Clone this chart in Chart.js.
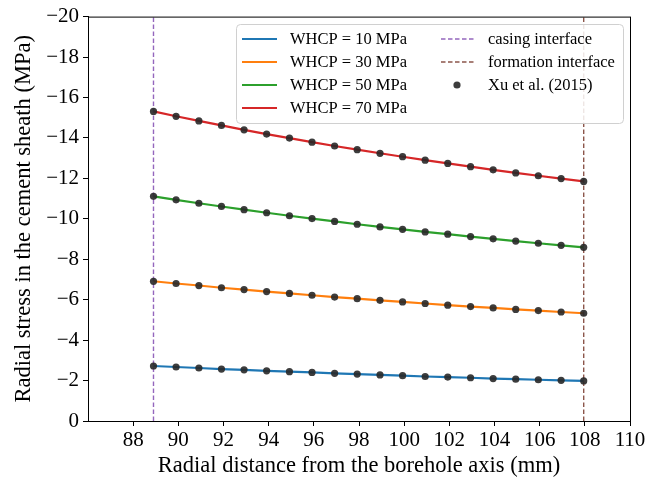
<!DOCTYPE html>
<html>
<head>
<meta charset="utf-8">
<script src="https://cdn.jsdelivr.net/npm/chart.js@4"></script>
<style>
  html, body { margin: 0; padding: 0; background: #fff; }
</style>
</head>
<body>
<canvas id="chart" width="648" height="481"></canvas>
<script>
// radial positions (mm) of the sampled points, casing -> formation
const radius = [88.90, 89.90, 90.91, 91.91, 92.91, 93.91, 94.92, 95.92, 96.92, 97.92,
                98.93, 99.93, 100.93, 101.93, 102.94, 103.94, 104.94, 105.94, 106.95, 107.95];

// radial stress (MPa) for each wellhead casing pressure
const whcp10 = [-2.72, -2.67, -2.62, -2.57, -2.53, -2.48, -2.44, -2.40, -2.36, -2.32,
                -2.28, -2.24, -2.20, -2.17, -2.14, -2.10, -2.07, -2.04, -2.01, -1.98];
const whcp30 = [-6.91, -6.80, -6.70, -6.59, -6.50, -6.40, -6.31, -6.22, -6.13, -6.05,
                -5.97, -5.89, -5.81, -5.73, -5.66, -5.59, -5.52, -5.46, -5.39, -5.33];
const whcp50 = [-11.11, -10.94, -10.77, -10.61, -10.45, -10.30, -10.15, -10.01, -9.87, -9.73,
                -9.60, -9.48, -9.35, -9.24, -9.12, -9.01, -8.90, -8.79, -8.69, -8.59];
const whcp70 = [-15.31, -15.07, -14.84, -14.62, -14.40, -14.19, -13.99, -13.79, -13.60, -13.42,
                -13.24, -13.07, -12.90, -12.74, -12.58, -12.42, -12.27, -12.13, -11.99, -11.85];

const seriesLabels = ["WHCP = 10 MPa", "WHCP = 30 MPa", "WHCP = 50 MPa", "WHCP = 70 MPa"];
const seriesColors = ["#1f77b4", "#ff7f0e", "#2ca02c", "#d62728"];

const casingR = 88.9;
const formationR = 107.95;

const xTicks = [88, 90, 92, 94, 96, 98, 100, 102, 104, 106, 108, 110];
const yTicks = [0, -2, -4, -6, -8, -10, -12, -14, -16, -18, -20];

function pts(ys){ return radius.map(function(x, i){ return {x: x, y: ys[i]}; }); }
function minus(v){ return v < 0 ? "\u2212" + Math.abs(v) : String(v); }

const FONT = "'Liberation Serif', 'DejaVu Serif', serif";
Chart.defaults.font.family = FONT;
Chart.defaults.color = "#000";

const DASH = [4.5, 2.5];
const allSeries = [whcp10, whcp30, whcp50, whcp70];
let datasets = allSeries.map(function(ys, i){
  return {
    label: seriesLabels[i], data: pts(ys), showLine: true,
    borderColor: seriesColors[i], backgroundColor: seriesColors[i],
    borderWidth: 2.2, pointRadius: 0, order: 3
  };
});
datasets.push({
  label: "casing interface", data: [{x: casingR, y: 0}, {x: casingR, y: -20}], showLine: true,
  borderColor: "#9467bd", borderWidth: 1.4, borderDash: DASH, pointRadius: 0, order: 2
});
datasets.push({
  label: "formation interface", data: [{x: formationR, y: 0}, {x: formationR, y: -20}], showLine: true,
  borderColor: "#8c564b", borderWidth: 1.4, borderDash: DASH, pointRadius: 0, order: 2
});
// Xu et al. points, same positions as the curves
let xuPts = [];
allSeries.forEach(function(ys){ xuPts = xuPts.concat(pts(ys)); });
datasets.push({
  label: "Xu et al. (2015)", data: xuPts, showLine: false,
  pointRadius: 3.6, pointHoverRadius: 3.6, borderWidth: 0,
  backgroundColor: "rgba(40,40,40,0.9)", order: 1
});

// frame round the plot
const frame = {
  id: "frame",
  afterDatasetsDraw(chart){
    const {ctx, chartArea: a} = chart;
    ctx.save();
    ctx.strokeStyle = "#000";
    ctx.lineWidth = 1;
    ctx.strokeRect(a.left + 0.5, a.top + 0.5, a.right - a.left, a.bottom - a.top);
    ctx.restore();
  }
};

// legend in two columns, like the original
const legendBox = {
  id: "legendBox",
  afterDraw(chart){
    const ctx = chart.ctx;
    const x0 = 236, y0 = 24, w = 387, h = 99;
    ctx.save();
    ctx.beginPath();
    ctx.roundRect(x0 + 0.5, y0 + 0.5, w, h, 4);
    ctx.fillStyle = "rgba(255,255,255,0.85)";
    ctx.fill();
    ctx.strokeStyle = "#d0d0d0";
    ctx.lineWidth = 1;
    ctx.stroke();
    ctx.font = "16.5px " + FONT;
    ctx.textBaseline = "middle";
    ctx.fillStyle = "#000";
    const rows = [39, 62, 85, 108];
    seriesLabels.forEach(function(lab, i){
      ctx.strokeStyle = seriesColors[i];
      ctx.lineWidth = 2.2;
      ctx.setLineDash([]);
      ctx.beginPath(); ctx.moveTo(242, rows[i]); ctx.lineTo(277, rows[i]); ctx.stroke();
      ctx.fillText(lab, 290, rows[i] + 1);
    });
    const dashed = [["casing interface", "#9467bd"], ["formation interface", "#8c564b"]];
    dashed.forEach(function(d, i){
      ctx.strokeStyle = d[1];
      ctx.lineWidth = 1.4;
      ctx.setLineDash(DASH);
      ctx.beginPath(); ctx.moveTo(441, rows[i]); ctx.lineTo(474, rows[i]); ctx.stroke();
      ctx.fillText(d[0], 488, rows[i] + 1);
    });
    ctx.setLineDash([]);
    ctx.fillStyle = "rgba(40,40,40,0.9)";
    ctx.beginPath(); ctx.arc(457, rows[2], 3.6, 0, Math.PI * 2); ctx.fill();
    ctx.fillStyle = "#000";
    ctx.fillText("Xu et al. (2015)", 488, rows[2] + 1);
    ctx.restore();
  }
};

new Chart(document.getElementById("chart"), {
  type: "scatter",
  data: { datasets: datasets },
  options: {
    responsive: false,
    animation: false,
    devicePixelRatio: 1,
    layout: { padding: { top: 16, right: 18, left: 0, bottom: 0 } },
    plugins: { legend: { display: false }, tooltip: { enabled: false } },
    scales: {
      x: {
        type: "linear", min: 86, max: 110,
        afterBuildTicks: function(s){ s.ticks = xTicks.map(function(v){ return {value: v}; }); },
        afterFit: function(s){ s.height = 60; },
        grid: { drawOnChartArea: false, tickLength: 5, color: "#000" },
        border: { color: "#000" },
        ticks: { font: { size: 21 }, padding: 2, maxRotation: 0 },
        title: { display: true, text: "Radial distance from the borehole axis (mm)", font: { size: 22.5 }, padding: { top: 0, bottom: 1.5 } }
      },
      y: {
        type: "linear", min: -20, max: 0, reverse: true,
        afterBuildTicks: function(s){ s.ticks = yTicks.map(function(v){ return {value: v}; }); },
        afterFit: function(s){ s.width = 88; },
        grid: { drawOnChartArea: false, tickLength: 5, color: "#000" },
        border: { color: "#000" },
        ticks: { font: { size: 21 }, padding: 4, callback: function(v){ return minus(v); } },
        title: { display: true, text: "Radial stress in the cement sheath (MPa)", font: { size: 22.5 }, padding: { top: 11, bottom: 0 } }
      }
    }
  },
  plugins: [frame, legendBox]
});
</script>
</body>
</html>
